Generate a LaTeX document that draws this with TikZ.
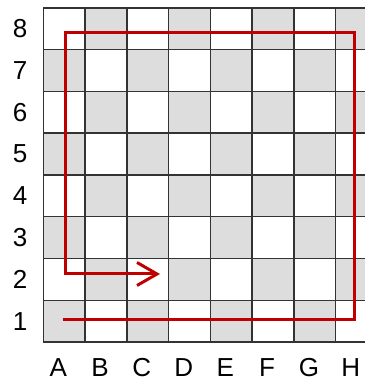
\documentclass[tikz,border=0pt]{standalone}
\usepackage{fontspec}
\setmainfont{Liberation Sans}
\usepackage{xcolor}
\usetikzlibrary{arrows.meta}
\definecolor{squaregray}{HTML}{DDDDDD}
\definecolor{gridgray}{HTML}{333333}
\definecolor{routered}{HTML}{C00000}

\begin{document}
\begin{tikzpicture}[
    x=0.835cm, y=0.835cm,
    every node/.style={font=\fontsize{14.8}{16}\selectfont},
    darksq/.style={fill=squaregray},
    gridline/.style={draw=gridgray, line width=0.75pt},
    lbl/.style={inner sep=0pt, anchor=center},
    route/.style={draw=routered, line width=1.7pt, line join=miter,
                  -{Straight Barb[length=0.4cm, width=0.46cm, line width=1.7pt]}}
]
    \useasboundingbox (-1.037,-0.934) rectangle (7.70,8.188);
    \clip (-1.037,-0.934) rectangle (7.70,8.188);

    % board
    \foreach \c in {1,...,8}
        \foreach \r in {1,...,8} {
            \pgfmathtruncatemacro{\odd}{mod(\c+\r,2)}
            \ifnum\odd=0
                \fill[darksq] (\c-1,\r-1) rectangle (\c,\r);
            \fi
        }
    \foreach \i in {0,...,8} {
        \draw[gridline] (\i,0) -- (\i,8);
        \draw[gridline] (0,\i) -- (8,\i);
    }

    % labels
    \foreach \r in {1,...,8}
        \node[lbl] (row\r) at (-0.558,\r-0.5) {\r};
    \foreach \l [count=\c] in {A,B,C,D,E,F,G,H}
        \node[lbl] (col\l) at (\c-0.64,-0.61) {\l};

    % route
    \coordinate (start) at (0.464,0.527);
    \coordinate (turn) at (7.44,0.527);
    \coordinate (back) at (0.536,7.414);
    \coordinate (stop) at (2.794,1.628);
    \draw[route] (start) -- (turn) |- (back) |- (stop);
\end{tikzpicture}
\end{document}
